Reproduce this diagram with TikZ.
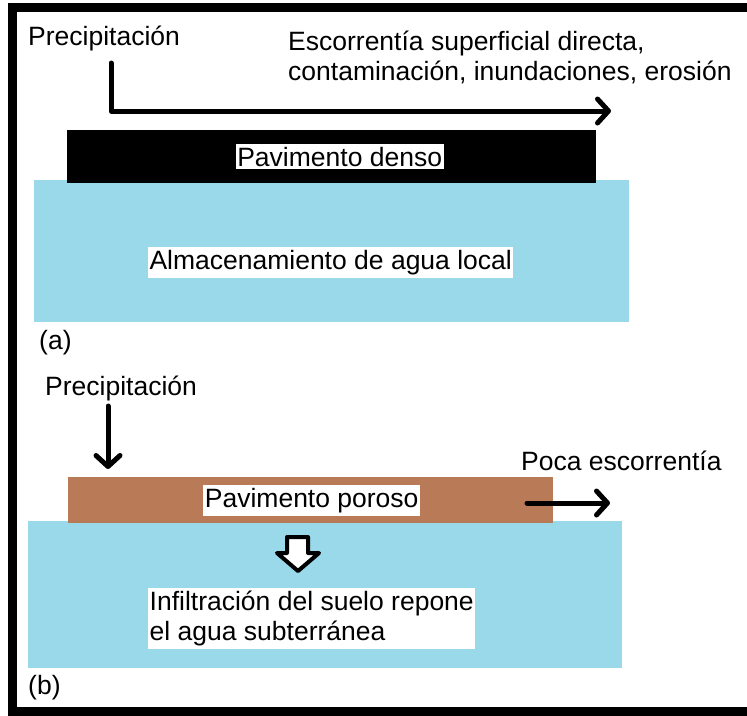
\documentclass[tikz,border=0pt]{standalone}
\usepackage{fontspec}
\setmainfont{Liberation Sans}
\usetikzlibrary{arrows.meta}
\usetikzlibrary{positioning}

\definecolor{paintBlue}{RGB}{153,217,234}
\definecolor{paintBrown}{RGB}{185,122,87}

\begin{document}
\begin{tikzpicture}[
  x=1pt, y=-1pt,
  font=\fontsize{26.5}{30}\selectfont,
  boxtext/.style={rectangle, fill=white, text=black, inner xsep=1.5pt, inner ysep=3pt},
  plaintext/.style={inner sep=0pt, anchor=base west},
  flowArrow/.style={line width=5pt, line cap=round, line join=round, -{Straight Barb[length=11pt, width=24pt, line cap=round, line join=round]}}
]
	\tikzstyle{storage1} = [rectangle, anchor=north west, fill=paintBlue, minimum width=595pt, minimum height=142pt, inner sep=0pt]
	\tikzstyle{storage2} = [rectangle, anchor=north west, fill=paintBlue, minimum width=594pt, minimum height=147pt, inner sep=0pt]
	\tikzstyle{pavement1} = [rectangle, anchor=north west, fill=black, minimum width=529pt, minimum height=53pt, inner sep=0pt]
	\tikzstyle{pavement2} = [rectangle, anchor=north west, fill=paintBrown, minimum width=485pt, minimum height=46pt, inner sep=0pt]

	\useasboundingbox (0,0) rectangle (747,715);
	\draw[line width=9pt] (747,7.5) -- (12.5,7.5) -- (12.5,711.5) -- (747,711.5);

	% (a) dense pavement
	\node (storage1) [storage1] at (34,180) {};
	\node (pavement1) [pavement1] at (67,130) {};
	\node (pavementLabel1) [boxtext, at=(pavement1.center), xshift=8pt] {Pavimento denso};
	\node (storageLabel1) [boxtext, at=(storage1.center), xshift=-1pt, yshift=-11pt] {Almacenamiento de agua local};

	\node (rainLabel1) [plaintext] at (28,45) {Precipitación};
	\node (runoffLabel1) [inner sep=0pt, anchor=north west, align=left] at (288,31) {Escorrentía superficial directa,\\contaminación, inundaciones, erosión};
	\node (caseA) [plaintext] at (39,349) {(a)};

	\coordinate (rainStart1) at (111,63);
	\coordinate (runoffEnd1) at (611,111);
	\draw[flowArrow] (rainStart1) |- (runoffEnd1);

	% (b) porous pavement
	\node (storage2) [storage2] at (28,521) {};
	\node (pavement2) [pavement2] at (68,477) {};
	\node (pavementLabel2) [boxtext, at=(pavement2.center), xshift=1pt] {Pavimento poroso};
	\node (storageLabel2) [boxtext, align=left, anchor=north west] at (148,588) {Infiltración del suelo repone\\el agua subterránea};

	\node (rainLabel2) [plaintext] at (45,395) {Precipitación};
	\node (runoffLabel2) [plaintext] at (521,470) {Poca escorrentía};
	\node (caseB) [plaintext] at (28,694) {(b)};

	\coordinate (rainStart2) at (108,406);
	\coordinate (rainEnd2) at (108,469);
	\draw[flowArrow] (rainStart2) -- (rainEnd2);

	\coordinate (runoffStart2) at (527,503);
	\coordinate (runoffEnd2) at (610,503);
	\draw[flowArrow] (runoffStart2) -- (runoffEnd2);

	% infiltration arrow
	\draw[line width=4pt, line join=round, fill=white] (287,537) -- (308,537) -- (308,553) -- (319,553) -- (298,571) -- (277,553) -- (287,553) -- cycle;
\end{tikzpicture}
\end{document}
